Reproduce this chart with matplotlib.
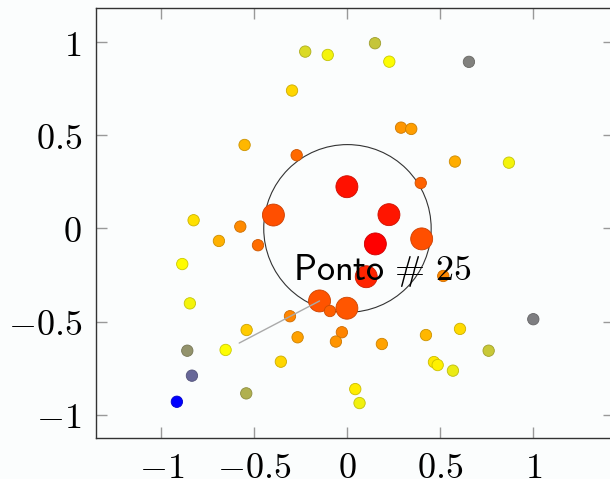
import numpy as np
import matplotlib
matplotlib.use('Agg')
import matplotlib.pyplot as plt
from matplotlib.colors import LinearSegmentedColormap, Normalize
from matplotlib.patches import Circle
from matplotlib.ticker import FuncFormatter

plt.rcParams['mathtext.fontset'] = 'cm'

# points
xs = [-0.553, -0.827, -0.576, -0.398, -0.227, -0.106, 0.148, 0.225, -0.298, 0.288,
      0.343, -0.273, 0.394, -0.003, 0.223, 0.653, 0.578, 0.868, -0.691, -0.481,
      -0.888, -0.847, -0.542, -0.655, -0.861, -0.836, -0.544, -0.917, 0.150, 0.399,
      0.101, -0.150, -0.094, -0.003, -0.309, -0.268, -0.030, -0.062, 0.185, 0.422,
      -0.358, 0.042, 0.065, 0.465, 0.485, 0.515, 0.999, 0.605, 0.759, 0.567]
ys = [0.448, 0.044, 0.010, 0.072, 0.949, 0.931, 0.994, 0.895, 0.740, 0.541,
      0.534, 0.393, 0.244, 0.224, 0.074, 0.894, 0.359, 0.353, -0.067, -0.090,
      -0.191, -0.402, -0.545, -0.652, -0.656, -0.790, -0.885, -0.930, -0.083, -0.056,
      -0.259, -0.389, -0.443, -0.428, -0.471, -0.584, -0.557, -0.607, -0.620, -0.572,
      -0.715, -0.862, -0.937, -0.717, -0.733, -0.255, -0.487, -0.539, -0.656, -0.763]

radius = 0.45
label_idx = 31
label_text = r'$\mathsf{Ponto}\ \#\ \mathsf{25}$'
ticks = [-1, -0.5, 0, 0.5, 1]

x = np.array(xs)
y = np.array(ys)
# colour goes with the distance to the origin, big marks inside the circle
dist = np.hypot(x, y)
inside = dist < radius

cmap = LinearSegmentedColormap.from_list('ryb', [(0, 'red'), (0.66, 'yellow'), (1, 'blue')])
norm = Normalize(dist.min(), dist.max())
fill = cmap(norm(dist))
edge = fill.copy()
edge[:, :3] *= 0.8
sizes = np.where(inside, 250, 67)

bg = '#fbfdfd'
fig = plt.figure(figsize=(6.1, 4.79), dpi=100, facecolor=bg)
ax = fig.add_axes([0.1579, 0.085, 0.8487, 0.8983])
ax.set_facecolor(bg)

ax.add_patch(Circle((0, 0), radius, fill=False, ec='#333333', lw=0.8, zorder=1))
ax.scatter(x, y, s=sizes, c=fill, edgecolors=edge, linewidths=0.6, zorder=2)
ax.annotate('', xy=(x[label_idx], y[label_idx]), xytext=(-0.582, -0.615),
            arrowprops=dict(arrowstyle='-', color='#aaaaaa', lw=1.0, shrinkA=0, shrinkB=0),
            zorder=3)
ax.text(0.184, -0.276, label_text, fontsize=26, ha='center', va='baseline', zorder=4)

ax.set_xlim(-1.350, 1.433)
ax.set_ylim(-1.126, 1.183)
ax.set_xticks(ticks)
ax.set_yticks(ticks)
fmt = FuncFormatter(lambda v, p: '$%g$' % v)
ax.xaxis.set_major_formatter(fmt)
ax.yaxis.set_major_formatter(fmt)
ax.tick_params(direction='in', length=8, width=1, color='#999999',
               top=True, right=True, labelsize=26)
ax.tick_params(axis='x', pad=9)
ax.tick_params(axis='y', pad=10.5)
for s in ax.spines.values():
    s.set_color('#333333')
    s.set_linewidth(1.0)

fig.savefig('out.png', dpi=100, facecolor=bg)
